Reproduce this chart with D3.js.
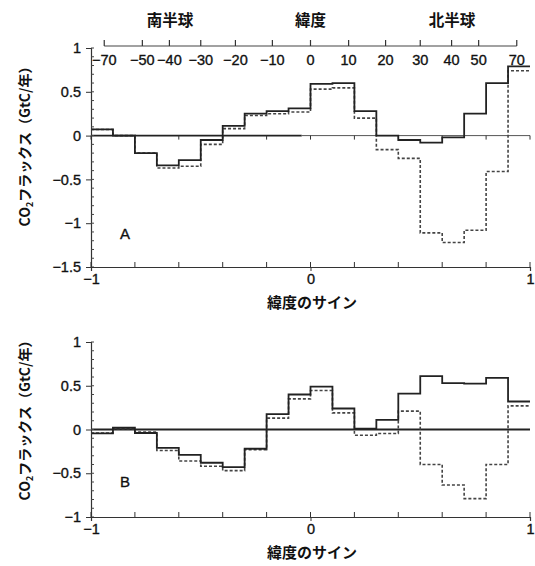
<!DOCTYPE html>
<html>
<head>
<meta charset="utf-8">
<script src="https://cdn.jsdelivr.net/npm/d3@7"></script>
<style>
  body { margin: 0; background: #fff; }
  text { font-family: "Liberation Sans", Arial, sans-serif; }
  .num { stroke: #111; stroke-width: 0.35px; }
  .jp { font-family: "Noto Sans CJK JP", sans-serif; font-weight: bold; }
</style>
</head>
<body>
<svg id="chart" width="535" height="566"></svg>
<script>
// bin edges in sine of latitude
var binEdges = [-1, -0.9, -0.8, -0.7, -0.6, -0.5, -0.4, -0.3, -0.2, -0.1,
                0, 0.1, 0.2, 0.3, 0.4, 0.5, 0.6, 0.7, 0.8, 0.9, 1];

// panel A
var aSolid  = [0.07, 0, -0.2, -0.34, -0.28, -0.05, 0.11, 0.25, 0.28, 0.31,
               0.59, 0.60, 0.28, 0, -0.05, -0.08, -0.02, 0.25, 0.60, 0.79];
var aDashed = [0.07, 0, -0.2, -0.37, -0.35, -0.10, 0.08, 0.23, 0.25, 0.27,
               0.53, 0.545, 0.20, -0.16, -0.26, -1.11, -1.22, -1.08, -0.41, 0.74];

// panel B
var bSolid  = [-0.045, 0.02, -0.04, -0.21, -0.29, -0.38, -0.43, -0.22, 0.175, 0.40,
               0.49, 0.24, 0.01, 0.11, 0.41, 0.61, 0.53, 0.525, 0.59, 0.32];
var bDashed = [-0.04, 0.01, -0.03, -0.24, -0.36, -0.42, -0.47, -0.23, 0.13, 0.35,
               0.445, 0.19, -0.065, -0.045, 0.21, -0.40, -0.635, -0.79, -0.40, 0.27];

var latTicks = [-70, -50, -40, -30, -20, -10, 0, 10, 20, 30, 40, 50, 70];
var aYTicks = [1, 0.5, 0, -0.5, -1, -1.5];
var bYTicks = [1, 0.5, 0, -0.5, -1];
var xLabelTicks = [-1, 0, 1];

var svg = d3.select("#chart");
var x = d3.scaleLinear().domain([-1, 1]).range([91, 530]);
var yA = d3.scaleLinear().domain([-1.5, 1]).range([267, 48]);
var yB = d3.scaleLinear().domain([-1, 1]).range([517, 342]);

var fmt = function(d) { return String(d).replace("-", "\u2212"); };

function stepPoints(vals) {
  var pts = vals.map(function(v, i) { return [binEdges[i], v]; });
  pts.push([binEdges[binEdges.length - 1], vals[vals.length - 1]]);
  return pts;
}

function drawPanel(y, yTicks, solid, dashed, letter, labelY, thinZero) {
  var g = svg.append("g");

  // zero line
  if (thinZero) {
    g.append("line").attr("x1", x(-1)).attr("x2", x(-0.04))
      .attr("y1", y(0)).attr("y2", y(0)).attr("stroke", "#222").attr("stroke-width", 1.8);
    g.append("line").attr("x1", x(-0.04)).attr("x2", x(1))
      .attr("y1", y(0)).attr("y2", y(0)).attr("stroke", "#555").attr("stroke-width", 1);
    g.selectAll(".zt").data(d3.range(-1, 1.01, 0.2)).enter().append("line")
      .attr("x1", function(d) { return x(d); }).attr("x2", function(d) { return x(d); })
      .attr("y1", y(0)).attr("y2", y(0) + 4).attr("stroke", "#333").attr("stroke-width", 1);
  } else {
    g.append("line").attr("x1", x(-1)).attr("x2", x(1))
      .attr("y1", y(0)).attr("y2", y(0)).attr("stroke", "#222").attr("stroke-width", 2);
  }

  var line = d3.line()
    .x(function(d) { return x(d[0]); })
    .y(function(d) { return y(d[1]); })
    .curve(d3.curveStepAfter);

  g.append("path").attr("d", line(stepPoints(dashed)))
    .attr("fill", "none").attr("stroke", "#444").attr("stroke-width", 1.6)
    .attr("stroke-dasharray", "3,2");
  g.append("path").attr("d", line(stepPoints(solid)))
    .attr("fill", "none").attr("stroke", "#222").attr("stroke-width", 1.8);

  // left axis
  var yAxis = g.append("g").attr("transform", "translate(" + x(-1) + ",0)")
    .call(d3.axisLeft(y).tickValues(yTicks).tickSize(5).tickPadding(5).tickFormat(fmt));
  yAxis.select(".domain").attr("stroke", "#333").attr("stroke-width", 1.2);
  yAxis.selectAll(".tick line").attr("stroke", "#333");
  yAxis.selectAll("text").attr("class", "num").attr("font-size", 14.5).attr("fill", "#111");
  yAxis.append("g").selectAll("line")
    .data(d3.range(y.domain()[0], y.domain()[1] + 0.001, 0.1)).enter().append("line")
    .attr("x1", 0).attr("x2", 3)
    .attr("y1", function(d) { return y(d); }).attr("y2", function(d) { return y(d); })
    .attr("stroke", "#444").attr("stroke-width", 1);

  // bottom axis
  var base = y.range()[0];
  var xAxis = g.append("g").attr("transform", "translate(0," + base + ")")
    .call(d3.axisBottom(x).tickValues(xLabelTicks).tickSize(4).tickPadding(3).tickFormat(fmt));
  xAxis.select(".domain").attr("stroke", "#333").attr("stroke-width", 1.2);
  xAxis.selectAll(".tick line").attr("stroke", "#333");
  xAxis.selectAll("text").attr("class", "num").attr("font-size", 14.5).attr("fill", "#111");
  xAxis.append("g").selectAll("line")
    .data(d3.range(-1, 1.01, 0.2)).enter().append("line")
    .attr("x1", function(d) { return x(d); }).attr("x2", function(d) { return x(d); })
    .attr("y1", 0).attr("y2", -5).attr("stroke", "#333").attr("stroke-width", 1);

  g.append("text").attr("class", "jp").attr("x", 312).attr("y", base + 41)
    .attr("text-anchor", "middle").attr("font-size", 15).attr("fill", "#111")
    .text("緯度のサイン");

  g.append("text").attr("class", "num").attr("x", 125).attr("y", y(letter.v))
    .attr("text-anchor", "middle").attr("dominant-baseline", "middle")
    .attr("font-size", 15).attr("fill", "#111").text(letter.t);

  var yl = g.append("text").attr("class", "jp")
    .attr("transform", "translate(30," + labelY + ") rotate(-90)")
    .attr("text-anchor", "middle").attr("font-size", 14).attr("fill", "#111");
  yl.append("tspan").text("CO");
  yl.append("tspan").attr("font-size", 9).attr("dy", 3).text("2");
  yl.append("tspan").attr("dy", -3).text("フラックス（GtC/年）");
}

drawPanel(yA, aYTicks, aSolid, aDashed, { t: "A", v: -1.14 }, 143, true);
drawPanel(yB, bYTicks, bSolid, bDashed, { t: "B", v: -0.61 }, 417, false);

// top latitude axis
var latX = function(d) { return x(Math.sin(d * Math.PI / 180)); };
var latAxis = svg.append("g");
var axY = 46;
latAxis.append("line").attr("x1", latX(-70)).attr("x2", latX(70))
  .attr("y1", axY).attr("y2", axY).attr("stroke", "#444").attr("stroke-width", 1.2);
latAxis.selectAll(".lt").data(latTicks).enter().append("line")
  .attr("x1", latX).attr("x2", latX)
  .attr("y1", axY).attr("y2", axY - 6).attr("stroke", "#333").attr("stroke-width", 1.2);
latAxis.selectAll(".ll").data(latTicks).enter().append("text").attr("class", "num")
  .attr("x", latX).attr("y", axY + 19)
  .attr("text-anchor", "middle").attr("font-size", 14.5).attr("fill", "#111")
  .text(fmt);

var heads = [["南半球", -0.64], ["緯度", 0], ["北半球", 0.645]];
latAxis.selectAll(".hd").data(heads).enter().append("text").attr("class", "jp")
  .attr("x", function(d) { return x(d[1]); }).attr("y", 26)
  .attr("text-anchor", "middle").attr("font-size", 15.5).attr("fill", "#111")
  .text(function(d) { return d[0]; });
</script>
</body>
</html>
